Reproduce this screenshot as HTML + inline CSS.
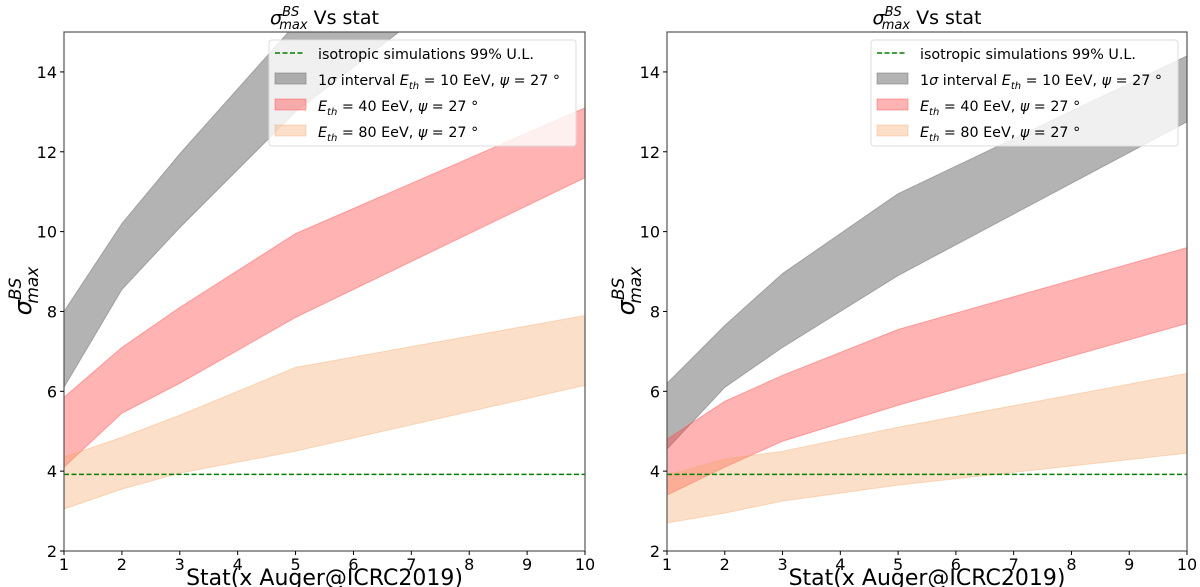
<!DOCTYPE html>
<html><head><meta charset="utf-8"><style>
body{margin:0;background:#fff;}
svg{display:block;font-family:"DejaVu Sans","Liberation Sans",sans-serif;}
</style></head><body>
<svg id="c" width="1200" height="587" viewBox="0 0 1200 587"></svg>
<script>
const xCats=[1,2,3,5,10];
const xTicks=[1,2,3,4,5,6,7,8,9,10];
const yTicks=[2,4,6,8,10,12,14];
const ulValue=3.92;
const L_grayHi=[8.0,10.2,11.95,15.2,20.0];
const L_grayLo=[6.1,8.55,10.1,13.0,18.6];
const L_redHi=[5.85,7.1,8.1,9.95,13.1];
const L_redLo=[4.1,5.45,6.2,7.85,11.35];
const L_peachHi=[4.35,4.85,5.4,6.6,7.9];
const L_peachLo=[3.05,3.55,3.95,4.5,6.15];
const R_grayHi=[6.2,7.65,8.95,10.95,14.4];
const R_grayLo=[4.55,6.1,7.1,8.9,12.75];
const R_redHi=[4.8,5.75,6.4,7.55,9.6];
const R_redLo=[3.4,4.1,4.75,5.65,7.7];
const R_peachHi=[3.9,4.3,4.5,5.1,6.45];
const R_peachLo=[2.7,2.95,3.25,3.65,4.45];

const svg=document.getElementById('c');
const NS='http://www.w3.org/2000/svg';
function mk(tag,attrs,parent){const e=document.createElementNS(NS,tag);for(const k in attrs)e.setAttribute(k,attrs[k]);(parent||svg).appendChild(e);return e;}

function panel(x0,x1,id,bands){
  const y0=551,y1=32;
  const xs=v=>x0+(v-1)/9*(x1-x0);
  const ys=v=>y0-(v-2)/13*(y0-y1);
  const g=mk('g',{});
  
  
  const cid='clip'+id;
  const cp=mk('clipPath',{id:cid},g);mk('rect',{x:x0,y:y1,width:x1-x0,height:y0-y1},cp);
  const plot=mk('g',{'clip-path':'url(#'+cid+')'},g);
  bands.forEach(b=>{
    let d='';
    xCats.forEach((c,i)=>{d+=(i?'L':'M')+xs(c)+','+ys(b.hi[i]);});
    for(let i=xCats.length-1;i>=0;i--)d+='L'+xs(xCats[i])+','+ys(b.lo[i]);
    d+='Z';
    const p=mk('path',{d:d,fill:b.fill,'fill-opacity':b.op,stroke:b.fill,'stroke-opacity':b.op,'stroke-width':1},plot);
    
    
  });
  const ul=mk('line',{x1:x0,x2:x1,y1:ys(ulValue),y2:ys(ulValue),stroke:'#008000','stroke-width':1.5,'stroke-dasharray':'5,2.5'},plot);
  
  
  mk('rect',{x:x0,y:y1,width:x1-x0,height:y0-y1,fill:'none',stroke:'#555','stroke-width':1.2},g);
  xTicks.forEach(t=>{
    mk('line',{x1:xs(t),x2:xs(t),y1:y0,y2:y0+4,stroke:'#000'},g);
    const tx=mk('text',{x:xs(t),y:y0+19,'font-size':16,'text-anchor':'middle'},g);tx.textContent=t;
    
    
  });
  yTicks.forEach(t=>{
    mk('line',{x1:x0-4,x2:x0,y1:ys(t),y2:ys(t),stroke:'#000'},g);
    const tx=mk('text',{x:x0-7,y:ys(t)+6,'font-size':16,'text-anchor':'end'},g);tx.textContent=t;
    
    
  });
  const xl=mk('text',{x:(x0+x1)/2,y:585,'font-size':22,'text-anchor':'middle'},g);xl.textContent='Stat(x Auger@ICRC2019)';
  
  
  const yl=mk('text',{transform:'translate('+(x0-33)+',291) rotate(-90)','font-size':24,'text-anchor':'middle'},g);
  yl.innerHTML='<tspan font-style="italic">σ</tspan><tspan font-size="17" font-style="italic" dy="-10">BS</tspan><tspan font-size="17" font-style="italic" dx="-26" dy="17">max</tspan>';
  
  
  const ti=mk('text',{x:(x0+x1)/2,y:24,'font-size':19,'text-anchor':'middle'},g);
  ti.innerHTML='<tspan font-style="italic">σ</tspan><tspan font-size="13" font-style="italic" dy="-8">BS</tspan><tspan font-size="13" font-style="italic" dx="-20" dy="13">max</tspan><tspan dy="-5"> Vs stat</tspan>';
  
  
  const lx=x1-316,ly=40;
  const lg=mk('g',{},g);
  
  
  mk('rect',{x:lx,y:ly,width:307,height:106,rx:3,fill:'#fff','fill-opacity':0.8,stroke:'#ddd'},lg);
  mk('line',{x1:lx+6,x2:lx+36,y1:ly+13,y2:ly+13,stroke:'#008000','stroke-width':1.5,'stroke-dasharray':'5,2.5'},lg);
  const items=[['isotropic simulations 99% U.L.',null],
   ['1<tspan font-style="italic">σ</tspan> interval <tspan font-style="italic">E</tspan><tspan font-size="10" font-style="italic" dy="4">th</tspan><tspan dy="-4"> = 10 EeV, </tspan><tspan font-style="italic">ψ</tspan> = 27 °',bands[0]],
   ['<tspan font-style="italic">E</tspan><tspan font-size="10" font-style="italic" dy="4">th</tspan><tspan dy="-4"> = 40 EeV, </tspan><tspan font-style="italic">ψ</tspan> = 27 °',bands[1]],
   ['<tspan font-style="italic">E</tspan><tspan font-size="10" font-style="italic" dy="4">th</tspan><tspan dy="-4"> = 80 EeV, </tspan><tspan font-style="italic">ψ</tspan> = 27 °',bands[2]]];
  items.forEach((it,i)=>{
    const yy=ly+13+i*26;
    if(it[1]){mk('rect',{x:lx+6,y:yy-6,width:31,height:11,fill:it[1].fill,'fill-opacity':it[1].op,stroke:it[1].fill,'stroke-opacity':it[1].op},lg);}
    const t=mk('text',{x:lx+49,y:yy+6,'font-size':14.3},lg);t.innerHTML=it[0];
    
    
  });
}
panel(64,585,'left-panel',[
 {name:'band-10eev',hi:L_grayHi,lo:L_grayLo,fill:'#808080',op:0.6},
 {name:'band-40eev',hi:L_redHi,lo:L_redLo,fill:'#ff4a4a',op:0.42},
 {name:'band-80eev',hi:L_peachHi,lo:L_peachLo,fill:'#f4a460',op:0.35}]);
panel(667,1187,'right-panel',[
 {name:'band-10eev',hi:R_grayHi,lo:R_grayLo,fill:'#808080',op:0.6},
 {name:'band-40eev',hi:R_redHi,lo:R_redLo,fill:'#ff4a4a',op:0.42},
 {name:'band-80eev',hi:R_peachHi,lo:R_peachLo,fill:'#f4a460',op:0.35}]);
</script>
</body></html>
